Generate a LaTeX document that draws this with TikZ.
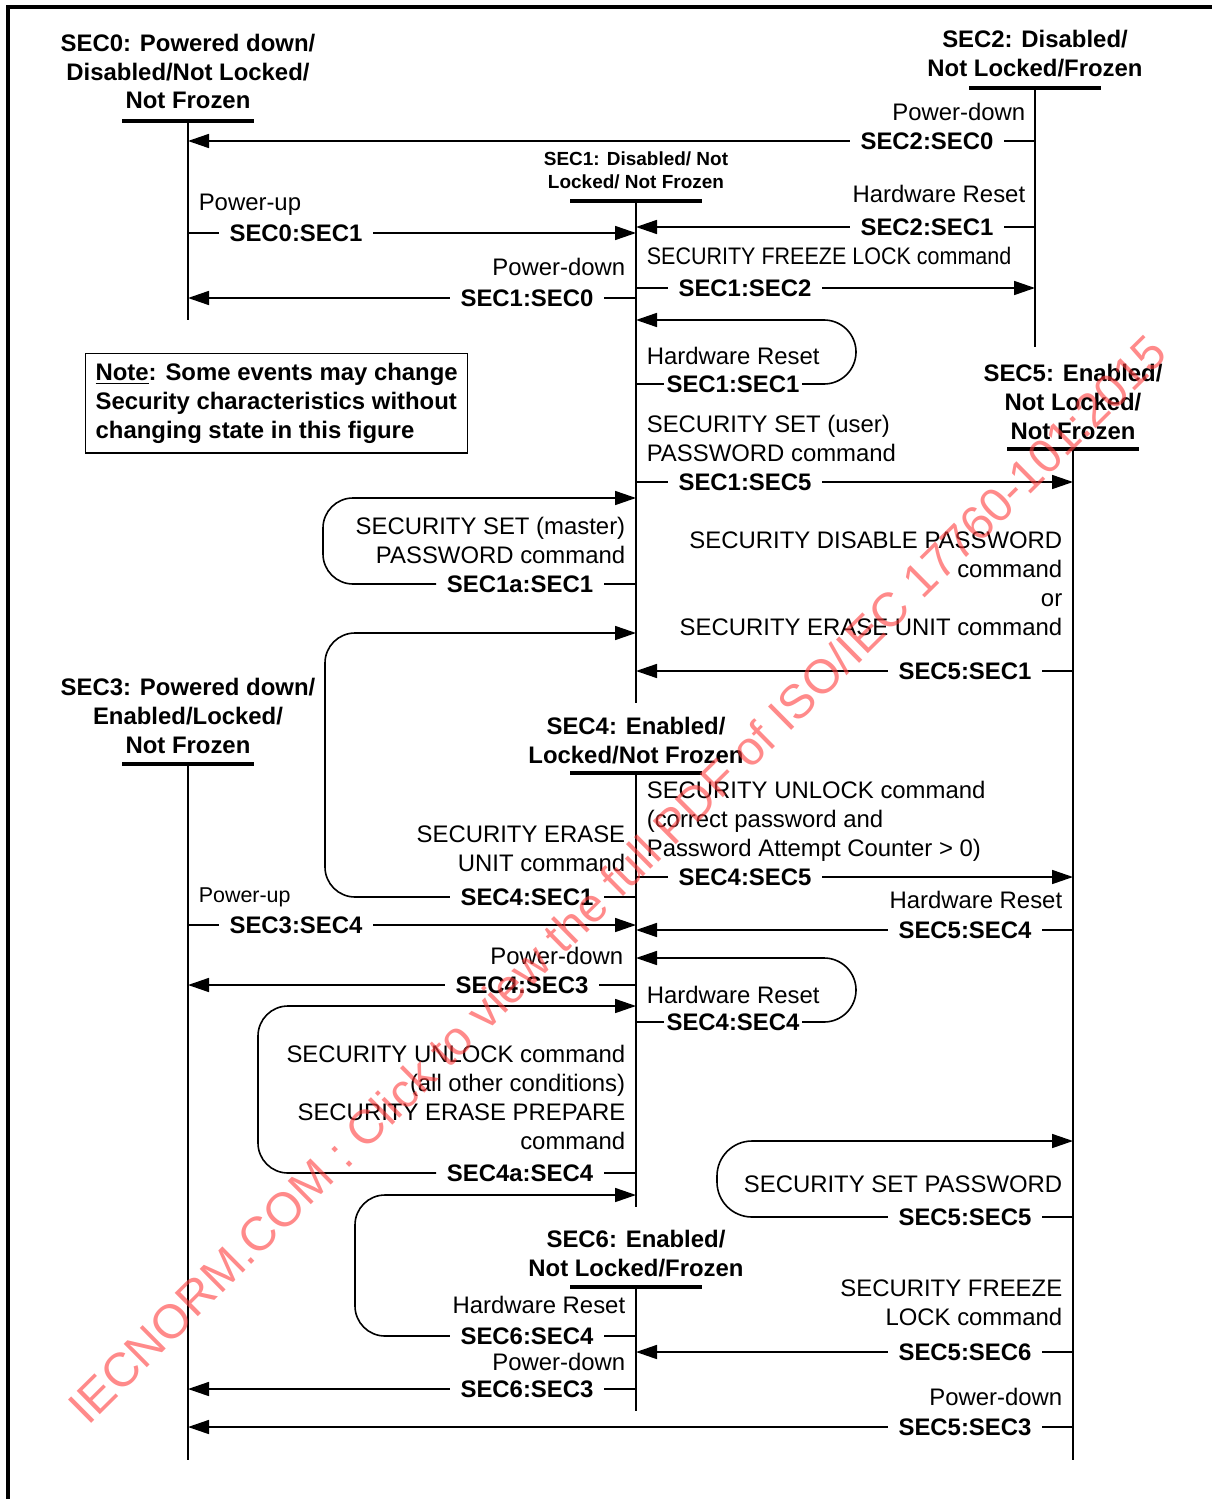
\documentclass[tikz,border=0pt]{standalone}
\usepackage{fontspec}
\setmainfont{Liberation Sans}
\usepackage{graphicx}
\usetikzlibrary{arrows.meta}
\newcommand\txtsize{\fontsize{13.6}{16.5}\selectfont}
\definecolor{wmred}{RGB}{255,60,60}

\begin{document}
\begin{tikzpicture}[x=0.2mm,y=-0.2mm,line width=0.32mm,>={Triangle[length=4.2mm,width=2.8mm]},font=\txtsize]

	\tikzstyle{state}=[align=center,font=\bfseries\txtsize,inner sep=0pt,anchor=base]
	\tikzstyle{bar}=[line width=0.8mm]
	\tikzstyle{ev}=[font=\bfseries\txtsize,inner xsep=2mm,inner ysep=0pt]
	\tikzstyle{evloop}=[ev,inner xsep=0.4mm]
	\tikzstyle{cond}=[font=\txtsize,inner sep=0pt]

	\useasboundingbox (0,0) rectangle (1212,1499);
	\draw[line width=0.7mm] (8,1499) -- (8,7) -- (1212,7);

	\node[state] (sec0) at (188,109) {SEC0: Powered down/\\Disabled/Not Locked/\\Not Frozen};
	\node[state] (sec2) at (1035,77) {SEC2: Disabled/\\Not Locked/Frozen};
	\node[state,font=\bfseries\fontsize{10.8}{13.1}\selectfont] (sec1) at (636,189) {SEC1: Disabled/ Not\\Locked/ Not Frozen};
	\node[state] (sec5) at (1073,439) {SEC5: Enabled/\\Not Locked/\\Not Frozen};
	\node[state] (sec3) at (188,753) {SEC3: Powered down/\\Enabled/Locked/\\Not Frozen};
	\node[state] (sec4) at (636,763) {SEC4: Enabled/\\Locked/Not Frozen};
	\node[state] (sec6) at (636,1276) {SEC6: Enabled/\\Not Locked/Frozen};

	\coordinate (l0a) at (188,121); \coordinate (l0b) at (188,320);
	\coordinate (l1a) at (636,201); \coordinate (l1b) at (636,703);
	\coordinate (l2a) at (1035,88); \coordinate (l2b) at (1035,347);
	\coordinate (l5a) at (1073,449); \coordinate (l5b) at (1073,1460);
	\coordinate (l3a) at (188,764); \coordinate (l3b) at (188,1460);
	\coordinate (l4a) at (636,773); \coordinate (l4b) at (636,1207);
	\coordinate (l6a) at (636,1287); \coordinate (l6b) at (636,1411);

	\foreach \s in {l0a,l1a,l2a,l5a,l3a,l4a,l6a}
		\draw[bar] ([xshift=-13.2mm]\s) -- ([xshift=13.2mm]\s);
	\draw (l0a) -- (l0b);
	\draw (l1a) -- (l1b);
	\draw (l2a) -- (l2b);
	\draw (l5a) -- (l5b);
	\draw (l3a) -- (l3b);
	\draw (l4a) -- (l4b);
	\draw (l6a) -- (l6b);

	\node[draw,line width=0.25mm,align=left,font=\bfseries\txtsize,inner xsep=2mm,inner ysep=1.9mm,anchor=north west] (note) at (85,353)
		{\underline{Note}: Some events may change\\Security characteristics without\\changing state in this figure};

	\node[ev] (t20) at (927,141) {SEC2:SEC0};
	\node[cond,anchor=base east] (c20) at (1026,121) {Power-down};
	\draw (l2a |- t20) -- (t20.east);
	\draw[->] (t20.west) -- (l0a |- t20);

	\node[ev] (t01) at (296,233) {SEC0:SEC1};
	\node[cond,anchor=base west] (c01) at (198,211) {Power-up};
	\draw (l0a |- t01) -- (t01.west);
	\draw[->] (t01.east) -- (l1a |- t01);

	\node[ev] (t21) at (927,227) {SEC2:SEC1};
	\node[cond,anchor=base east] (c21) at (1026,203) {Hardware Reset};
	\draw (l2a |- t21) -- (t21.east);
	\draw[->] (t21.west) -- (l1a |- t21);

	\node[ev] (t10) at (527,298) {SEC1:SEC0};
	\node[cond,anchor=base east] (c10) at (626,276) {Power-down};
	\draw (l1a |- t10) -- (t10.east);
	\draw[->] (t10.west) -- (l0a |- t10);

	\node[ev] (t12) at (745,288) {SEC1:SEC2};
	\node[cond,anchor=base west] (c12) at (646,265) {\scalebox{0.9}[1]{SECURITY FREEZE LOCK command}};
	\draw (l1a |- t12) -- (t12.west);
	\draw[->] (t12.east) -- (l2a |- t12);

	\node[evloop] (t11) at (733,384) {SEC1:SEC1};
	\node[cond,anchor=base west] (c11) at (646,365) {Hardware Reset};
	\draw (l1a |- t11) -- (t11.west);
	\draw[->,rounded corners=6.4mm] (t11.east) -- (856,384) -- (856,320) -- (l1a |- 0,320);

	\node[ev] (t15) at (745,482) {SEC1:SEC5};
	\node[cond,anchor=base west,align=left] (c15) at (646,461) {SECURITY SET (user)\\PASSWORD command};
	\draw (l1a |- t15) -- (t15.west);
	\draw[->] (t15.east) -- (l5a |- t15);

	\node[ev] (t1a) at (520,584) {SEC1a:SEC1};
	\node[cond,anchor=base east,align=right] (c1a) at (626,563) {SECURITY SET (master)\\PASSWORD command};
	\draw (l1a |- t1a) -- (t1a.east);
	\draw[->,rounded corners=6mm] (t1a.west) -- (323,584) -- (323,498) -- (l1a |- 0,498);

	\node[ev] (t51) at (965,671) {SEC5:SEC1};
	\node[cond,anchor=base east,align=right] (c51) at (1063,635) {SECURITY DISABLE PASSWORD\\command\\or\\SECURITY ERASE UNIT command};
	\draw (l5a |- t51) -- (t51.east);
	\draw[->] (t51.west) -- (l1a |- t51);

	\node[ev] (t41) at (527,897) {SEC4:SEC1};
	\node[cond,anchor=base east,align=right] (c41) at (626,871) {SECURITY ERASE\\UNIT command};
	\draw (l4a |- t41) -- (t41.east);
	\draw[->,rounded corners=6mm] (t41.west) -- (325,897) -- (325,633) -- (l1a |- 0,633);

	\node[ev] (t45) at (745,877) {SEC4:SEC5};
	\node[cond,anchor=base west,align=left] (c45) at (646,856) {SECURITY UNLOCK command\\(correct password and\\Password Attempt Counter > 0)};
	\draw (l4a |- t45) -- (t45.west);
	\draw[->] (t45.east) -- (l5a |- t45);

	\node[ev] (t34) at (296,925) {SEC3:SEC4};
	\node[cond,anchor=base west,font=\fontsize{12.2}{14}\selectfont] (c34) at (198,902) {Power-up};
	\draw (l3a |- t34) -- (t34.west);
	\draw[->] (t34.east) -- (l4a |- t34);

	\node[ev] (t54) at (965,930) {SEC5:SEC4};
	\node[cond,anchor=base east] (c54) at (1063,908) {Hardware Reset};
	\draw (l5a |- t54) -- (t54.east);
	\draw[->] (t54.west) -- (l4a |- t54);

	\node[ev] (t43) at (522,985) {SEC4:SEC3};
	\node[cond,anchor=base east] (c43) at (624,964) {Power-down};
	\draw (l4a |- t43) -- (t43.east);
	\draw[->] (t43.west) -- (l3a |- t43);

	\node[evloop] (t44) at (733,1022) {SEC4:SEC4};
	\node[cond,anchor=base west] (c44) at (646,1003) {Hardware Reset};
	\draw (l4a |- t44) -- (t44.west);
	\draw[->,rounded corners=6.4mm] (t44.east) -- (856,1022) -- (856,958) -- (l4a |- 0,958);

	\node[ev] (t4a) at (520,1173) {SEC4a:SEC4};
	\node[cond,anchor=base east,align=right] (c4a) at (626,1149) {SECURITY UNLOCK command\\(all other conditions)\\SECURITY ERASE PREPARE\\command};
	\draw (l4a |- t4a) -- (t4a.east);
	\draw[->,rounded corners=6mm] (t4a.west) -- (258,1173) -- (258,1006) -- (l4a |- 0,1006);

	\node[ev] (t55) at (965,1217) {SEC5:SEC5};
	\node[cond,anchor=base east] (c55) at (1063,1192) {SECURITY SET PASSWORD};
	\draw (l5a |- t55) -- (t55.east);
	\draw[->,rounded corners=7mm] (t55.west) -- (717,1217) -- (717,1141) -- (l5a |- 0,1141);

	\node[ev] (t64) at (527,1336) {SEC6:SEC4};
	\node[cond,anchor=base east] (c64) at (626,1313) {Hardware Reset};
	\draw (l6a |- t64) -- (t64.east);
	\draw[->,rounded corners=6mm] (t64.west) -- (355,1336) -- (355,1195) -- (l4a |- 0,1195);

	\node[ev] (t56) at (965,1352) {SEC5:SEC6};
	\node[cond,anchor=base east,align=right] (c56) at (1063,1325) {SECURITY FREEZE\\LOCK command};
	\draw (l5a |- t56) -- (t56.east);
	\draw[->] (t56.west) -- (l6a |- t56);

	\node[ev] (t63) at (527,1389) {SEC6:SEC3};
	\node[cond,anchor=base east] (c63) at (626,1370) {Power-down};
	\draw (l6a |- t63) -- (t63.east);
	\draw[->] (t63.west) -- (l3a |- t63);

	\node[ev] (t53) at (965,1427) {SEC5:SEC3};
	\node[cond,anchor=base east] (c53) at (1063,1405) {Power-down};
	\draw (l5a |- t53) -- (t53.east);
	\draw[->] (t53.west) -- (l3a |- t53);

	\node[text=wmred,text opacity=0.6,rotate=44.7,inner sep=0pt,font=\fontsize{27.2}{30}\selectfont] (wmark) at (617,879)
		{IECNORM.COM : Click to view the full PDF of ISO/IEC 17760-101:2015};
\end{tikzpicture}
\end{document}
